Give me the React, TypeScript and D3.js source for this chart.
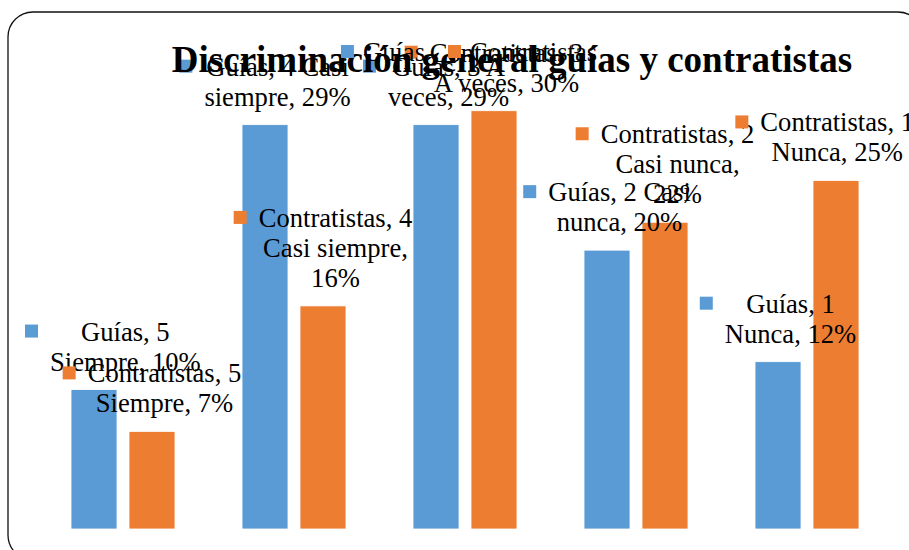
import React, { useEffect, useRef } from 'react'
import * as d3 from 'd3'

const categories = ['5 Siempre', '4 Casi siempre', '3 A veces', '2 Casi nunca', '1 Nunca']
const seriesNames = ['Guías', 'Contratistas']
const guiasValues = [10, 29, 29, 20, 12]
const contratistasValues = [7, 16, 30, 22, 25]
const colors = ['#5B9BD5', '#ED7D31']
const title = 'Discriminación general guías y contratistas'

const W = 909, H = 550
const FONT = "'Liberation Serif', serif"

const App = () => {
  const svgRef = useRef<SVGSVGElement>(null)

  useEffect(() => {
    const svg = d3.select(svgRef.current)
    svg.selectAll('*').remove()

    const values = [guiasValues, contratistasValues]
    const rows = categories.map((c, i) => ({ cat: c, vals: values.map(v => v[i]) }))

    const x0 = d3.scaleBand().domain(categories).range([37.5, 892.5])
      .paddingInner(0.392).paddingOuter(0.196)
    const x1 = d3.scaleBand().domain(seriesNames).range([0, x0.bandwidth()])
      .paddingInner(0.207).paddingOuter(0)
    const y = d3.scaleLinear().domain([0, 35]).range([529, 41])

    // chart border
    svg.append('rect')
      .attr('x', 8).attr('y', 12).attr('width', 915).attr('height', 548)
      .attr('rx', 25).attr('fill', 'white').attr('stroke', '#111').attr('stroke-width', 1.3)

    // bars
    const g = svg.append('g')
    rows.forEach(r => {
      seriesNames.forEach((s, si) => {
        g.append('rect')
          .attr('x', x0(r.cat)! + x1(s)!)
          .attr('y', y(r.vals[si]))
          .attr('width', x1.bandwidth())
          .attr('height', y(0) - y(r.vals[si]))
          .attr('fill', colors[si])
          .attr('stroke', 'white').attr('stroke-width', 0.8)
      })
    })

    // measuring helper
    const meas = svg.append('text').style('font-family', FONT).style('font-size', '26.6px')
      .attr('visibility', 'hidden')
    const textW = (t: string) => {
      meas.text(t)
      return (meas.node() as SVGTextElement).getComputedTextLength()
    }
    const wrap = (t: string, maxW: number) => {
      const words = t.split(' ')
      const lines: string[] = []
      let cur = ''
      words.forEach(w => {
        const test = cur ? cur + ' ' + w : w
        if (cur && textW(test) > maxW) { lines.push(cur); cur = w } else cur = test
      })
      if (cur) lines.push(cur)
      return lines
    }

    // data labels with legend keys
    const lg = svg.append('g').style('font-family', FONT).style('font-size', '26.6px').attr('fill', '#000')
    rows.forEach(r => {
      seriesNames.forEach((s, si) => {
        const v = r.vals[si]
        const lines = wrap(`${s}, ${r.cat}, ${v}%`, 162)
        const maxW = d3.max(lines, l => textW(l))!
        const blockW = 25 + maxW
        const cx = x0(r.cat)! + x1(s)! + x1.bandwidth() / 2
        const left = Math.max(25, Math.min(cx - blockW / 2, 914 - blockW))
        const tx = left + 25 + maxW / 2
        const lastBase = y(v) - 19
        const firstBase = lastBase - 30 * (lines.length - 1)
        lg.append('rect').attr('x', left).attr('y', firstBase - 16)
          .attr('width', 13).attr('height', 13).attr('fill', colors[si])
        const t = lg.append('text').attr('text-anchor', 'middle')
        lines.forEach((l, li) => {
          t.append('tspan').attr('x', tx).attr('y', firstBase + li * 30).text(l)
        })
      })
    })

    // title
    svg.append('text')
      .attr('x', 512).attr('y', 72).attr('text-anchor', 'middle')
      .style('font-family', FONT).style('font-size', '37px').style('font-weight', 'bold')
      .text(title)

    // legend
    const widths = seriesNames.map(s => textW(s))
    const total = d3.sum(widths) + seriesNames.length * 22 + 23 * (seriesNames.length - 1)
    let lx = 469 - total / 2
    const leg = svg.append('g').style('font-family', FONT).style('font-size', '26.6px')
    seriesNames.forEach((s, si) => {
      leg.append('rect').attr('x', lx).attr('y', 45).attr('width', 13).attr('height', 13)
        .attr('fill', colors[si])
      leg.append('text').attr('x', lx + 22).attr('y', 61).text(s)
      lx += 22 + widths[si] + 23
    })

    meas.remove()
  }, [])

  return (
    <div>
      <svg ref={svgRef} width={W} height={H}
        style={{ position: 'absolute', left: 0, top: 0, background: 'white' }}></svg>
    </div>
  )
}

export default App
